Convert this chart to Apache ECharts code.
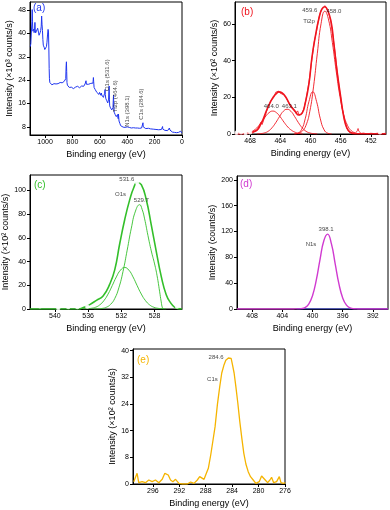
<!DOCTYPE html>
<html>
<head>
<meta charset="utf-8">
<script src="https://cdn.jsdelivr.net/npm/echarts@6.0.0/dist/echarts.min.js"></script>
<style>html,body{margin:0;padding:0;background:#fff}#c{width:390px;height:510px}</style>
</head>
<body>
<div id="c"></div>
<script>
// ---------- (a) survey spectrum [BE (eV), intensity x10^3 counts/s] ----------
const surveyData = [
[1108,35.5],[1104,36.5],[1100,40.5],[1096,44],[1094,48.2],[1092,44],[1089,40.8],[1086,40.2],[1083,41.5],[1080,40.3],
[1077,41],[1074,43.8],[1072,41.5],[1069,40.2],[1066,40.4],[1062,39.8],[1058,40.6],[1054,41.8],[1050,42.3],[1047,40.2],
[1044,39.4],[1040,39.8],[1036,40.3],[1032,41],[1028,42.5],[1025,46],[1022,43],[1019,41],[1016,38],[1013,36],
[1010,35.8],[1006,35.2],[1002,34.5],[998,34.2],[994,34.6],[990,35.5],[986,37],[982,39.5],[978,41.4],[975,40.5],
[972,34],[970,28],[968,24.5],[965,23.2],[960,22.6],[955,22.9],[950,22.4],[945,22.7],[940,22.5],[935,22.8],
[930,22.6],[925,23],[920,22.7],[915,22.9],[910,23.1],[905,22.8],[900,23],[895,22.9],[890,23.2],[885,23],
[880,23.3],[875,23.1],[870,23.5],[865,23.2],[860,23.6],[856,23.4],[852,23.8],[849,24.5],[846,29],[844,30.3],
[842,27],[840,23.2],[837,22.3],[833,21.8],[828,22.2],[823,21.5],[818,21.8],[813,21.2],[808,21.6],[803,21],
[798,21.5],[793,21.1],[788,21.7],[783,21.2],[778,21.6],[773,21.9],[768,21.4],[763,21.9],[758,21.5],[753,21.8],
[748,21.4],[743,21.9],[738,21.6],[733,22],[728,21.7],[723,22.2],[718,21.9],[713,22.4],[708,22.7],[704,23.1],
[701,23.8],[698,22.6],[694,22.2],[690,22.5],[686,22.3],[682,22.6],[678,22.4],[674,22.8],[670,22.5],[666,22.9],
[662,22.6],[658,22.9],[654,22.4],[650,23],[647,24.9],[645,23.5],[642,21.5],[638,21],[634,20.8],[630,20.4],
[626,20.2],[622,19.8],[618,19.6],[614,19.3],[610,19.6],[606,19.1],[602,19.8],[598,19.9],[595,19.2],[592,18.8],
[589,19.6],[586,18.9],[583,19.3],[580,18.4],[577,18.7],[574,18.1],[571,17.7],[568,18.6],[565,19.5],[562,20.8],
[560,19.1],[557,17.8],[554,17.4],[551,17.1],[548,16.8],[545,16.5],[542,16.2],[539,16.4],[536,17.5],[534,20],
[532,22],[530,17.5],[528,15.2],[525,14.8],[522,14.5],[519,14.3],[516,14.1],[513,13.8],[510,13.6],[507,13.4],
[504,14.5],[502,17],[500,18.9],[498,15.5],[495,13],[492,12.6],[489,12.3],[486,12],[483,11.7],[480,11.5],
[477,11.2],[474,11.4],[471,12.2],[468,11.8],[466,10.8],[464,12.4],[462,11.2],[460,10],[457,9.6],[454,9.2],
[451,8.7],[448,8.4],[445,8.1],[440,7.9],[435,7.8],[430,7.9],[425,7.8],[420,7.7],[415,7.8],[410,7.7],
[405,7.8],[400,8.0],[398,8.3],[396,7.9],[390,7.7],[385,7.8],[380,7.7],[375,7.8],[370,7.6],[365,7.7],
[360,7.6],[355,7.7],[350,7.6],[345,7.7],[340,7.6],[335,7.7],[330,7.5],[325,7.6],[320,7.5],[315,7.6],
[310,7.5],[305,7.6],[300,7.5],[295,7.6],[290,7.7],[287,8.2],[285,9.4],[283,8.0],[280,7.5],[275,7.4],
[270,7.5],[265,7.4],[260,7.5],[255,7.4],[250,7.4],[245,7.5],[240,7.3],[235,7.4],[230,7.3],[225,7.4],
[220,7.3],[215,7.3],[210,7.2],[205,7.3],[200,7.2],[195,7.2],[190,7.1],[185,7.2],[180,7.1],[175,7.1],
[170,7.0],[165,7.1],[160,7.0],[155,7.0],[150,7.1],[145,7.3],[142,8.1],[140,7.2],[135,6.9],[130,6.9],
[125,6.8],[120,6.9],[115,6.8],[110,6.8],[105,6.7],[100,6.8],[95,6.9],[92,7.6],[90,8.2],[88,6.9],
[85,6.4],[80,6.3],[75,6.4],[70,6.2],[65,6.3],[60,6.2],[55,6.1],[50,6.2],[45,6.1],[40,6.0],
[35,6.2],[30,6.0],[25,6.1],[20,5.9],[15,6.0],[10,6.5],[8,5.9],[5,5.8],[2,5.9],[0,5.8]
];
const surveyNotes = [[543,25.7,'O1s (531.6)'],[488,18.5,'Ti2p (464.6)'],[398,13.4,'N1s (398.1)'],[297,15.8,'C1s (284.6)']];

// ---------- (b) Ti2p [BE, intensity x10^2 counts/s] ----------
const tiEnvelope = [[470,0],[469,0.1],[468,0.4],[467.5,1.2],[467,2.5],[466.6,5.2],[466.3,7.8],[465.8,13.1],[465.3,17.5],[464.9,20.3],
[464.5,22.2],[464.2,23],[463.8,22.5],[463.3,20.3],[462.7,15.8],[462.0,12.2],[461.6,10.4],[461.1,11.4],[460.7,16.8],[460.2,27.6],
[459.8,42],[459.3,54.6],[458.9,62.7],[458.5,68.1],[458.1,69.4],[457.8,68.1],[457.3,61.8],[456.9,49.2],[456.5,34.8],[456.0,20.3],
[455.6,9.5],[455.2,3.5],[454.7,0.8],[454,0.1],[450,0]];
const tiRaw = [[470,0.2],[469.5,0.5],[469,0.1],[468.5,0.6],[468,0.3],[467.5,1.5],[467,2.2],[466.8,4.5],[466.6,6.3],[466.4,5.2],
[466.2,7.6],[465.8,12.5],[465.3,17.9],[464.9,19.8],[464.6,22.8],[464.4,22.1],[464.2,23.4],[464.0,22.2],[463.8,22.9],[463.5,21.4],
[463.2,19.5],[462.8,16.4],[462.5,14.2],[462.2,13.5],[461.9,11.3],[461.7,12.6],[461.5,10.2],[461.2,11.0],[460.9,13.5],[460.6,18.6],
[460.2,28.3],[459.8,41.2],[459.5,50.3],[459.2,56.1],[458.9,63.2],[458.6,67.5],[458.3,68.8],[458.1,70.0],[457.9,68.6],[457.6,66.2],
[457.3,61.0],[457.0,52.5],[456.7,42.8],[456.4,31.6],[456.1,22.4],[455.8,14.2],[455.5,7.8],[455.2,3.3],[454.9,1.2],[454.5,0.4],
[454.0,0.6],[453.8,1.8],[453.7,3.0],[453.6,1.5],[453.3,0.3],[453,0.5],[452.5,0.1],[452,0.4],[451.5,0.2],[451,0.5],[450.5,0.2],[450,0.4]];
const tiPeakA = [[454.1,0.6],[454.6,1.8],[455.1,4.7],[455.6,10.5],[456.1,20.5],[456.6,34.4],[457.1,49.8],[457.6,62.2],[458.1,67],
[458.6,60.2],[459.1,43.8],[459.6,25.7],[460.1,12.2],[460.6,4.7],[461.1,1.5],[461.6,0.4],[462.1,0]];
const tiPeakB = [[457.2,0],[457.7,0.4],[458.2,2.3],[458.7,8.3],[459.2,17.8],[459.7,23],[460.2,17.8],[460.7,8.3],[461.2,2.3],[461.7,0.4],[462.2,0]];
const tiPeakC = [[461,0],[461.5,0.3],[462,0.9],[462.5,2.0],[463,3.8],[463.5,6.4],[464,9.3],[464.5,11.6],[465,12.5],[465.5,11.6],
[466,9.3],[466.5,6.4],[467,3.8],[467.5,2.0],[468,0.9],[468.5,0.3],[469,0]];
const tiPeakD = [[459.1,0],[459.6,0.2],[460.1,0.6],[460.6,1.5],[461.1,3.4],[461.6,6.2],[462.1,9.5],[462.6,12.4],[463.1,13.5],[463.6,12.4],
[464.1,9.5],[464.6,6.2],[465.1,3.4],[465.6,1.5],[466.1,0.6],[466.6,0.2],[467.1,0]];
const tiMarks = [[469.8,0.7],[469.2,0.9],[468.6,0.6],[468.0,1.0],[450.8,1.0]];
const tiNotes = [[460.1,67.2,'459.6'],[456.9,66.8,'458.0'],[460.2,61.4,'Ti2p'],[465.2,14.9,'464.0'],[462.8,14.9,'463.1']];

// ---------- (c) O1s ----------
const oEnvelope = [[543,0],[537.2,0],[536.8,0.6],[536.4,1.6],[535.8,3.7],[535.0,7.3],[534.2,11],[533.4,21],[532.8,33],[532.2,55],
[531.6,75.3],[531.0,92],[530.5,102.5],[530.1,106.7],[529.6,104.8],[529.0,92.1],[528.4,71],[527.8,48.6],[527.2,27.5],[526.6,12.1],
[526.0,4.5],[525.6,1.5],[525.2,0.3],[524.7,0]];
const oPeak1 = [[526.9,0],[527.05,1],[527.2,6],[527.4,15],[527.7,28],[528.0,38],[528.4,49],[528.8,62],[529.2,76],[529.5,84],[529.8,88],
[530.3,82.6],[530.8,68.2],[531.3,49.6],[531.8,31.7],[532.3,17.9],[532.8,8.8],[533.3,3.9],[533.8,1.5],[534.3,0.5],[534.8,0.1],[535.3,0]];
const oPeak2 = [[526.6,0],[527.1,0.2],[527.6,0.6],[528.1,1.5],[528.6,3.5],[529.1,7.1],[529.6,12.6],[530.1,19.7],[530.6,27.1],[531.1,32.8],
[531.6,35],[532.1,32.8],[532.6,27.1],[533.1,19.7],[533.6,12.6],[534.1,7.1],[534.6,3.5],[535.1,1.5],[535.6,0.6],[536.1,0.2],[536.6,0]];
const oMarks = [[542.4,2.8],[541.8,2.4],[539.6,0.8],[538.4,1.7],[537.3,1.7],[536.1,2.2],[525.3,2.2],[530.1,106.5]];
const oNotes = [[531.34,109,'531.6'],[532.1,96.4,'O1s'],[529.6,91.6,'529.7']];

// ---------- (d) N1s ----------
const nPeak = [[410,0],[403,0],[402.5,0.1],[402,0.2],[401.5,0.6],[401,2.2],[400.5,7.6],[400,20.6],[399.5,44.6],[399,77],[398.5,105.8],
[398,116],[397.5,101.2],[397,70.3],[396.5,38.9],[396,17.2],[395.5,6],[395,1.7],[394.5,0.4],[394,0.1],[393.5,0],[390,0]];
const nBackground = [[402.1,0],[390,0]];
const nNotes = [[398.2,123.7,'398.1'],[400.2,99.5,'N1s']];

// ---------- (e) C1s ----------
const cSpectrum = [[298.89,0.7],[298.38,3.2],[298.13,0.4],[297.62,0.7],[297.11,0.4],[296.61,1.2],[296.1,0.7],[295.6,1.2],[295.09,0.4],
[294.58,1.4],[294.18,3.2],[293.97,3.7],[293.67,2.7],[293.32,1.2],[292.96,0.7],[292.56,1.4],[292.05,0.2],[291.54,0],[290.78,0],[290.28,0.6],
[289.77,0.2],[289.27,1.2],[288.91,2.2],[288.61,1.8],[288.25,1.4],[287.9,3.2],[287.6,4.7],[287.24,8.7],[286.89,13.2],[286.58,17.2],
[286.23,23.8],[285.87,29.3],[285.57,33.3],[285.22,35.8],[284.96,37.1],[284.76,37.5],[284.56,37.8],[284.35,38.1],[284.15,37.7],[283.95,35.8],
[283.7,33.3],[283.44,29.3],[283.14,24.3],[282.84,18.7],[282.53,13.7],[282.23,9.2],[281.92,6.0],[281.57,3.7],[281.22,2.2],[280.81,1.2],
[280.41,0.2],[279.9,0.7],[279.54,2.4],[279.29,2.2],[278.99,1.2],[278.63,0.4],[278.28,1.2],[278.03,2.0],[277.72,0.4],[277.27,0.7],
[276.86,2.2],[276.61,0.4],[276.25,0.2],[275.95,0.4]];
const cNotes = [[286.43,38.1,'284.6'],[286.98,31.3,'C1s']];

// ---------- ticks ----------
const ticksAx = [0,200,400,600,800,1000], ticksAy = [8,16,24,32,40,48];
const ticksBx = [452,456,460,464,468], ticksBy = [0,20,40,60];
const ticksCx = [528,532,536,540], ticksCy = [0,20,40,60,80,100];
const ticksDx = [392,396,400,404,408], ticksDy = [0,40,80,120,160,200];
const ticksEx = [276,280,284,288,292,296], ticksEy = [0,8,16,24,32,40];

const FONT = '"Liberation Sans", Arial, Helvetica, sans-serif';
const BLUE = '#1f35f0', RED = '#f0141e', GREEN = '#33bf2a', MAG = '#d03ad0', YEL = '#f5b400';

const gridBox = [
  {left:30, top:2, width:152, height:133},
  {left:235, top:2, width:151, height:132},
  {left:30, top:175, width:152, height:134},
  {left:237, top:176, width:151, height:133},
  {left:133, top:349, width:152, height:135}
].map(g => Object.assign({show:true, borderColor:'#000', borderWidth:1, backgroundColor:'rgba(0,0,0,0)'}, g));

const plain = v => String(v);

function xAx(i, min, max, ticks) {
  return {type:'value', gridIndex:i, inverse:true, min:min, max:max,
    name:'Binding energy (eV)', nameLocation:'middle', nameGap:15,
    nameTextStyle:{fontSize:9, color:'#000', fontFamily:FONT},
    axisLine:{show:true, onZero:false, lineStyle:{color:'#000', width:1}},
    axisTick:{show:true, inside:false, length:3, customValues:ticks, lineStyle:{color:'#000'}},
    axisLabel:{show:true, customValues:ticks, formatter:plain, fontSize:7, color:'#000', margin:4, fontFamily:FONT},
    splitLine:{show:false}};
}
function yAx(i, min, max, ticks, name, gap) {
  return {type:'value', gridIndex:i, min:min, max:max,
    name:name, nameLocation:'middle', nameGap:gap,
    nameTextStyle:{fontSize:9, color:'#000', fontFamily:FONT},
    axisLine:{show:true, onZero:false, lineStyle:{color:'#000', width:1}},
    axisTick:{show:true, inside:false, length:3, customValues:ticks, lineStyle:{color:'#000'}},
    axisLabel:{show:true, customValues:ticks, formatter:plain, fontSize:7, color:'#000', margin:4, fontFamily:FONT},
    splitLine:{show:false}};
}
function line(i, data, color, width, smooth, z) {
  return {type:'line', xAxisIndex:i, yAxisIndex:i, data:data, showSymbol:false, symbol:'none',
    smooth:smooth || false, lineStyle:{color:color, width:width}, itemStyle:{color:color},
    silent:true, z:z || 2, animation:false};
}
function marks(i, data, color) {
  return {type:'scatter', xAxisIndex:i, yAxisIndex:i, data:data, symbol:'emptyCircle', symbolSize:2.5,
    itemStyle:{color:'#fff', borderColor:color, borderWidth:0.6}, silent:true, z:3, animation:false};
}
function notes(i, data, rotate) {
  return {type:'scatter', xAxisIndex:i, yAxisIndex:i, symbolSize:0,
    data:data.map(d => ({value:[d[0], d[1]], name:d[2]})),
    label:{show:true, position:'inside', formatter:'{b}', fontSize:6, color:'#111', fontFamily:FONT, rotate:rotate || 0},
    silent:true, z:6, animation:false};
}
function letter(txt, left, top, color) {
  return {type:'text', left:left, top:top, z:10, style:{text:txt, fill:color, font:'10px ' + FONT}};
}

const option = {
  animation:false,
  backgroundColor:'#fff',
  textStyle:{fontFamily:FONT},
  grid:gridBox,
  xAxis:[
    xAx(0, 0, 1110, ticksAx),
    xAx(1, 450, 470, ticksBx),
    xAx(2, 524.7, 543, ticksCx),
    xAx(3, 390, 410, ticksDx),
    xAx(4, 276, 299, ticksEx)
  ],
  yAxis:[
    yAx(0, 5.2, 50.8, ticksAy, 'Intensity (×10³ counts/s)', 15),
    yAx(1, 0, 72, ticksBy, 'Intensity (×10² counts/s)', 15),
    yAx(2, 0, 113, ticksCy, 'Intensity (×10² counts/s)', 19),
    yAx(3, 0, 206, ticksDy, 'Intensity (counts/s)', 19),
    yAx(4, 0, 40.5, ticksEy, 'Intensity (×10² counts/s)', 15)
  ],
  graphic:[
    letter('(a)', 33, 3, BLUE),
    letter('(b)', 241, 7, RED),
    letter('(c)', 34, 180, GREEN),
    letter('(d)', 240, 179, MAG),
    letter('(e)', 137, 355, YEL)
  ],
  series:[
    line(0, surveyData, BLUE, 1, false),
    notes(0, surveyNotes, 90),

    line(1, tiPeakA, RED, 0.9, true),
    line(1, tiPeakB, RED, 0.9, true),
    line(1, tiPeakC, RED, 0.9, true),
    line(1, tiPeakD, RED, 0.9, true),
    line(1, tiRaw, RED, 0.8, false),
    line(1, tiEnvelope, RED, 1.6, true, 3),
    marks(1, tiMarks, RED),
    notes(1, tiNotes, 0),

    line(2, oPeak2, GREEN, 0.9, true),
    line(2, oPeak1, GREEN, 0.9, true),
    line(2, oEnvelope, GREEN, 1.6, true, 3),
    marks(2, oMarks, GREEN),
    notes(2, oNotes, 0),

    line(3, nBackground, '#2a3ae0', 1.2, false),
    line(3, nPeak, MAG, 1.4, true, 3),
    notes(3, nNotes, 0),

    line(4, cSpectrum, YEL, 1.3, false),
    notes(4, cNotes, 0)
  ]
};
const chart = echarts.init(document.getElementById('c'), null, {renderer:'canvas', width:390, height:510});
chart.setOption(option);
</script>
</body>
</html>
